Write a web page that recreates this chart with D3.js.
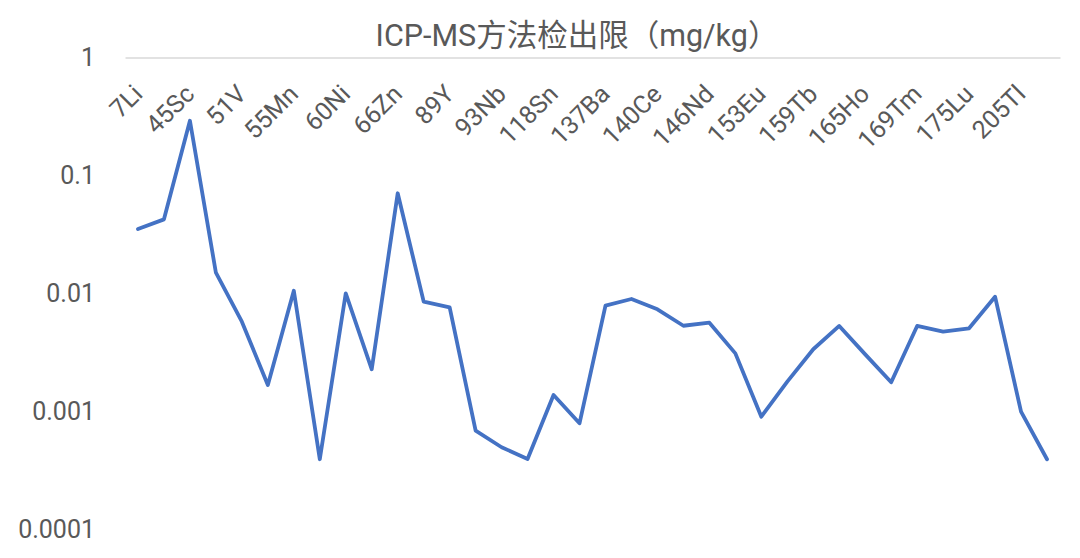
<!DOCTYPE html>
<html>
<head>
<meta charset="utf-8">
<script src="https://cdn.jsdelivr.net/npm/d3@7"></script>
<style>
  body { margin: 0; background: #fff; }
  svg text { font-family: Roboto, "Noto Sans CJK SC", sans-serif; fill: #595959; }
</style>
</head>
<body>
<svg id="chart" width="1080" height="558"></svg>
<script>
// isotopes on the category axis (only every other one is labelled)
const elements = [
  "7Li", "9Be", "45Sc", "47Ti", "51V", "52Cr", "55Mn", "59Co", "60Ni", "63Cu",
  "66Zn", "88Sr", "89Y", "90Zr", "93Nb", "95Mo", "118Sn", "133Cs", "137Ba", "139La",
  "140Ce", "141Pr", "146Nd", "147Sm", "153Eu", "157Gd", "159Tb", "163Dy", "165Ho", "166Er",
  "169Tm", "172Yb", "175Lu", "178Hf", "205Tl", "208Pb"
];

// detection limits, mg/kg
const detectionLimits = [
  0.0352, 0.0425, 0.291, 0.0150, 0.00577, 0.00168, 0.01056, 0.000394, 0.01004, 0.00228,
  0.0707, 0.00853, 0.00764, 0.000688, 0.000498, 0.000396, 0.00138, 0.000794, 0.00789, 0.00898,
  0.00735, 0.00533, 0.00566, 0.00311, 0.000904, 0.00179, 0.00337, 0.00531, 0.00305, 0.00177,
  0.00531, 0.00475, 0.00507, 0.00940, 0.000996, 0.000394
];

const yTicks = [1, 0.1, 0.01, 0.001, 0.0001];
const yTickLabels = ["1", "0.1", "0.01", "0.001", "0.0001"];

const title = "ICP-MS方法检出限（mg/kg）";

const svg = d3.select("#chart");
const margin = { top: 57.5, left: 125, right: 20, bottom: 28.5 };
const width = 1080, height = 558;

const x = d3.scaleBand()
  .domain(elements)
  .range([margin.left, width - margin.right]);

const y = d3.scaleLog()
  .domain([0.0001, 1])
  .range([height - margin.bottom, margin.top]);

// title
svg.append("text")
  .attr("x", 577)
  .attr("y", 46)
  .attr("text-anchor", "middle")
  .style("font-size", "30.5px")
  .text(title);

// category axis sits on the top (value 1), every other label shown
const xAxis = svg.append("g")
  .attr("transform", `translate(0,${y(1)})`)
  .call(d3.axisBottom(x)
    .tickValues(elements.filter((d, i) => i % 2 === 0))
    .tickSize(0)
    .tickSizeOuter(0));

xAxis.select(".domain").attr("stroke", "#d9d9d9").attr("stroke-width", 1.5);
xAxis.selectAll("text")
  .attr("x", 0).attr("y", 0).attr("dy", 0)
  .attr("text-anchor", "end")
  .attr("transform", "translate(6,38) rotate(-45)")
  .style("font-size", "25px");

// value axis
const yAxis = svg.append("g")
  .attr("transform", `translate(103,0)`)
  .call(d3.axisLeft(y)
    .tickValues(yTicks)
    .tickFormat((d, i) => yTickLabels[i])
    .tickSize(0)
    .tickPadding(8));

yAxis.select(".domain").remove();
yAxis.selectAll("text").style("font-size", "25px");

// series
const line = d3.line()
  .x((d, i) => x(elements[i]) + x.bandwidth() / 2)
  .y(d => y(d));

svg.append("path")
  .datum(detectionLimits)
  .attr("fill", "none")
  .attr("stroke", "#4472C4")
  .attr("stroke-width", 3.8)
  .attr("stroke-linejoin", "round")
  .attr("stroke-linecap", "round")
  .attr("d", line);
</script>
</body>
</html>
